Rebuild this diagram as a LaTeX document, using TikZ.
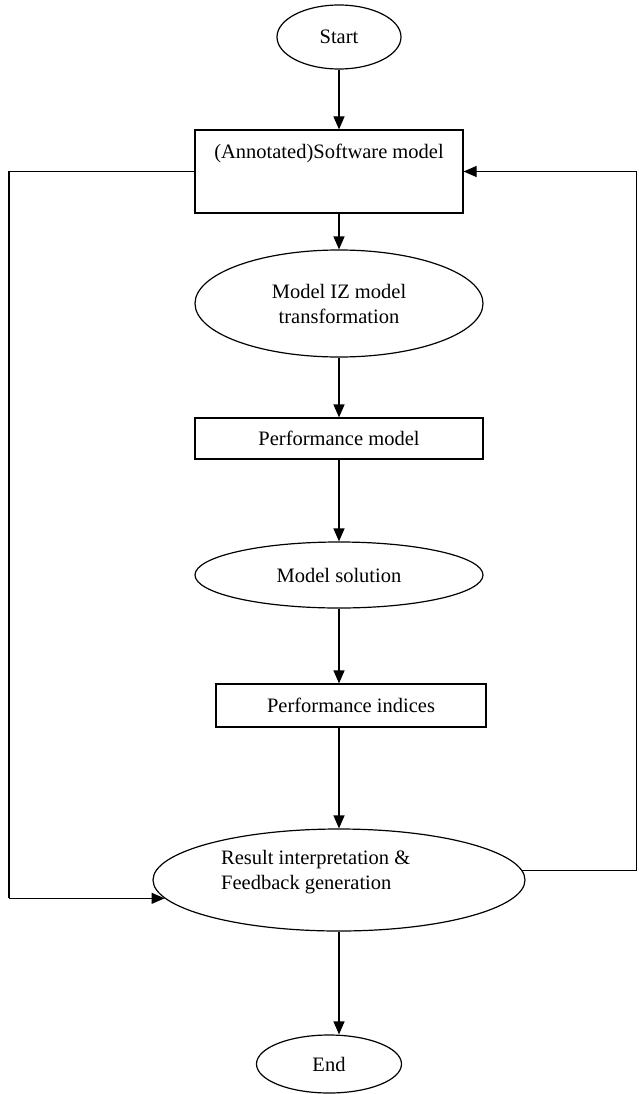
\documentclass[tikz,border=0pt]{standalone}
\usepackage{fontspec}
\setmainfont{Liberation Serif}
\usetikzlibrary{shapes.geometric,arrows.meta}
\begin{document}
\begin{tikzpicture}[x=1pt,y=-1pt,
  every node/.style={font=\fontsize{20.5}{25}\selectfont, inner sep=0pt},
  oval/.style={ellipse, draw, line width=1.2pt, align=center},
  boxnode/.style={rectangle, draw, line width=1.2pt, align=center},
  conn/.style={line width=1.2pt, -{Triangle[length=13pt,width=11pt]}},
  plain/.style={line width=1.2pt}]
\useasboundingbox (0,0) rectangle (638,1094);

\node[oval, minimum width=124, minimum height=64] (start) at (339,37) {Start};
\node[boxnode, minimum width=268, minimum height=83] (sw) at (329,171.5) {};
\node (swt) at (329,153) {(Annotated)Software model};
\node[oval, minimum width=288, minimum height=107] (iz) at (339,303.5) {Model IZ model\\transformation};
\node[boxnode, minimum width=288, minimum height=41] (pm) at (339,438.5) {Performance model};
\node[oval, minimum width=288, minimum height=66] (ms) at (339,575) {Model solution};
\node[boxnode, minimum width=270, minimum height=43] (pi) at (351,705.5) {Performance indices};
\node[oval, minimum width=372, minimum height=102] (res) at (339,880) {};
\node[align=left, anchor=west] (rest) at (221,872) {Result interpretation \&\\Feedback generation};
\node[oval, minimum width=145, minimum height=58] (end) at (329,1064) {End};

\draw[conn] (start.south) -- (start.south |- sw.north);
\draw[conn] (sw.south -| iz.north) -- (iz.north);
\draw[conn] (iz.south) -- (pm.north);
\draw[conn] (pm.south) -- (ms.north);
\draw[conn] (ms.south) -- (ms.south |- pi.north);
\draw[conn] (res.north |- pi.south) -- (res.north);
\draw[conn] (res.south) -- (res.south |- end.north);

\coordinate (lx) at (9,171.5);
\draw[plain] (sw.west) -- (lx) -- (lx |- res.186);
\draw[conn] (lx |- res.186) -- (res.186);

\coordinate (rx) at (636.5,171.5);
\draw[plain] (res.3) -- (res.3 -| rx) -- (rx);
\draw[conn] (rx) -- (sw.east);
\end{tikzpicture}
\end{document}
